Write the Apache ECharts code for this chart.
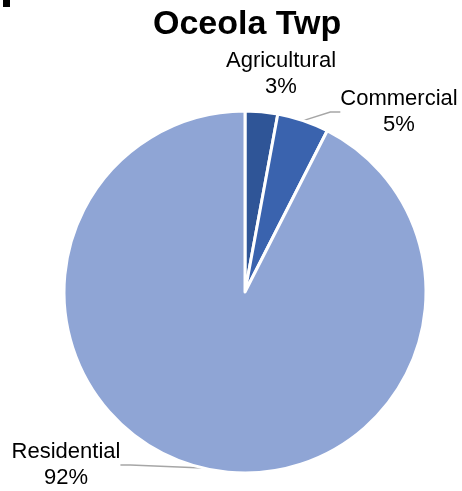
<!DOCTYPE html>
<html>
<head>
<meta charset="utf-8">
<script src="https://cdn.jsdelivr.net/npm/echarts@6/dist/echarts.min.js"></script>
<style>
  html, body { margin: 0; padding: 0; background: #fff; }
  #chart { width: 462px; height: 491px; }
</style>
</head>
<body>
<div id="chart"></div>
<script>
var categories = ['Agricultural', 'Commercial', 'Residential'];
var shares = [2.9, 4.6, 92.4];
var colors = ['#2F5597', '#3A63AE', '#8FA5D5'];

document.addEventListener('DOMContentLoaded', function () {
  var myChart = echarts.init(document.getElementById('chart'));

  var data = categories.map(function (name, i) {
    return {
      name: name,
      value: shares[i],
      itemStyle: { color: colors[i] },
      labelLine: { show: i !== 0 }
    };
  });

  var option = {
    title: {
      text: 'Oceola Twp',
      left: 148,
      top: 3,
      textStyle: { fontFamily: 'Liberation Sans, Arial', fontSize: 34, fontWeight: 'bold', color: '#000' }
    },
    graphic: [
      { type: 'rect', shape: { x: 3, y: 0, width: 7, height: 7 }, style: { fill: '#000' } }
    ],
    series: [
      {
        type: 'pie',
        center: [245, 292],
        radius: 181,
        startAngle: 90,
        clockwise: true,
        itemStyle: { borderColor: '#fff', borderWidth: 3 },
        label: {
          show: true,
          position: 'outside',
          fontFamily: 'Liberation Sans, Arial',
          fontSize: 22,
          color: '#000',
          lineHeight: 26,
          align: 'center',
          overflow: 'none',
          formatter: function (p) { return p.name + '\n' + Math.round(p.percent) + '%'; }
        },
        labelLine: { show: true, length: 8, length2: 10, lineStyle: { color: '#A6A6A6', width: 1.5 } },
        labelLayout: function (params) {
          var pos = {
            0: { x: 281, y: 74 },
            1: { x: 399, y: 112 },
            2: { x: 66, y: 465 }
          }[params.dataIndex];
          return { x: pos.x, y: pos.y, align: 'center', verticalAlign: 'middle' };
        },
        data: data
      }
    ]
  };

  myChart.setOption(option);
});
</script>
</body>
</html>
